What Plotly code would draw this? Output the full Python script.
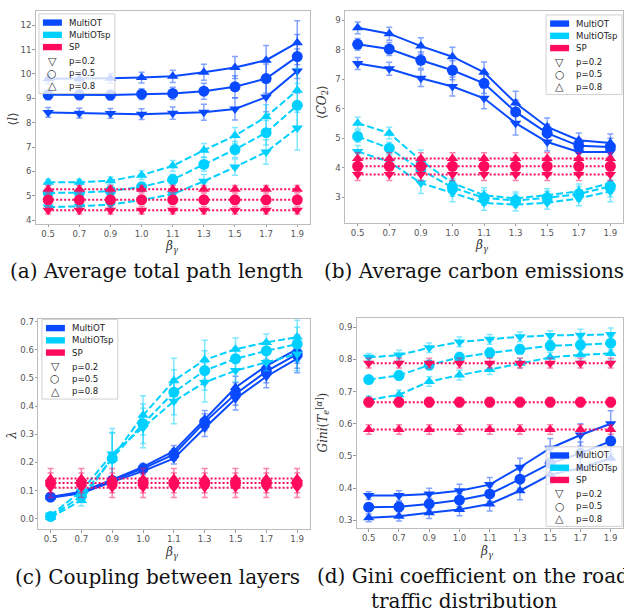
import plotly.graph_objects as go

# ---------------- data ----------------
beta_labels = ["0.5", "0.7", "0.9", "1.0", "1.1", "1.3", "1.5", "1.7", "1.9"]
p_labels = ["p=0.2", "p=0.5", "p=0.8"]
method_names = ["MultiOT", "MultiOTsp", "SP"]

# (a) average total path length
a_mot_p02 = [8.42, 8.39, 8.38, 8.35, 8.39, 8.43, 8.56, 9.05, 10.12]
a_mot_p05 = [9.14, 9.14, 9.13, 9.17, 9.20, 9.29, 9.47, 9.81, 10.71]
a_mot_p08 = [9.80, 9.80, 9.82, 9.85, 9.90, 10.07, 10.26, 10.56, 11.28]
a_mot_err = [0.20, 0.20, 0.20, 0.22, 0.25, 0.33, 0.45, 0.60, 0.90]
a_msp_p02 = [4.54, 4.57, 4.64, 4.83, 5.07, 5.60, 6.18, 6.80, 7.78]
a_msp_p05 = [5.12, 5.13, 5.20, 5.37, 5.67, 6.29, 6.90, 7.59, 8.71]
a_msp_p08 = [5.56, 5.56, 5.62, 5.85, 6.23, 6.87, 7.47, 8.24, 9.33]
a_msp_err = [0.12, 0.12, 0.15, 0.18, 0.22, 0.28, 0.33, 0.50, 0.90]
a_sp_p02 = [4.41, 4.41, 4.41, 4.41, 4.41, 4.41, 4.41, 4.41, 4.41]
a_sp_p05 = [4.84, 4.84, 4.84, 4.84, 4.84, 4.84, 4.84, 4.84, 4.84]
a_sp_p08 = [5.27, 5.27, 5.27, 5.27, 5.27, 5.27, 5.27, 5.27, 5.27]
a_sp_err = [0.15, 0.15, 0.15, 0.15, 0.15, 0.15, 0.15, 0.15, 0.15]

# (b) average carbon emissions
b_mot_p02 = [7.53, 7.35, 7.03, 6.75, 6.35, 5.51, 4.87, 4.53, 4.53]
b_mot_p05 = [8.18, 8.02, 7.64, 7.30, 6.86, 5.89, 5.17, 4.74, 4.70]
b_mot_p08 = [8.74, 8.54, 8.12, 7.76, 7.23, 6.19, 5.38, 4.93, 4.84]
b_mot_err = [0.20, 0.22, 0.28, 0.32, 0.35, 0.40, 0.30, 0.25, 0.30]
b_msp_p02 = [4.55, 4.20, 3.48, 3.15, 2.81, 2.75, 2.81, 2.96, 3.20]
b_msp_p05 = [5.06, 4.66, 3.93, 3.33, 2.98, 2.89, 2.98, 3.11, 3.37]
b_msp_p08 = [5.51, 5.17, 4.25, 3.48, 3.07, 2.96, 3.07, 3.20, 3.48]
b_msp_err = [0.20, 0.20, 0.35, 0.30, 0.25, 0.22, 0.22, 0.25, 0.35]
b_sp_p02 = [3.77, 3.77, 3.77, 3.77, 3.77, 3.77, 3.77, 3.77, 3.77]
b_sp_p05 = [4.05, 4.05, 4.05, 4.05, 4.05, 4.05, 4.05, 4.05, 4.05]
b_sp_p08 = [4.31, 4.31, 4.31, 4.31, 4.31, 4.31, 4.31, 4.31, 4.31]
b_sp_err = [0.20, 0.20, 0.20, 0.20, 0.20, 0.20, 0.20, 0.20, 0.20]

# (c) coupling between layers
c_mot_p02 = [0.074, 0.090, 0.131, 0.169, 0.214, 0.322, 0.426, 0.505, 0.568]
c_mot_p05 = [0.077, 0.092, 0.136, 0.178, 0.228, 0.343, 0.443, 0.523, 0.584]
c_mot_p08 = [0.077, 0.096, 0.139, 0.184, 0.240, 0.354, 0.466, 0.543, 0.602]
c_mot_err = [0.008, 0.010, 0.010, 0.012, 0.020, 0.030, 0.040, 0.040, 0.050]
c_msp_p02 = [0.012, 0.098, 0.230, 0.322, 0.417, 0.484, 0.526, 0.555, 0.585]
c_msp_p05 = [0.008, 0.080, 0.214, 0.337, 0.449, 0.526, 0.568, 0.596, 0.620]
c_msp_p08 = [0.004, 0.065, 0.216, 0.367, 0.490, 0.564, 0.602, 0.626, 0.645]
c_msp_err = [0.010, 0.020, 0.090, 0.070, 0.080, 0.070, 0.040, 0.030, 0.060]
c_sp_p02 = [0.110, 0.110, 0.110, 0.110, 0.110, 0.110, 0.110, 0.110, 0.110]
c_sp_p05 = [0.127, 0.127, 0.127, 0.127, 0.127, 0.127, 0.127, 0.127, 0.127]
c_sp_p08 = [0.143, 0.143, 0.143, 0.143, 0.143, 0.143, 0.143, 0.143, 0.143]
c_sp_err = [0.035, 0.035, 0.035, 0.035, 0.035, 0.035, 0.035, 0.035, 0.035]

# (d) Gini coefficient on the road traffic distribution
d_mot_p02 = [0.377, 0.377, 0.382, 0.392, 0.411, 0.465, 0.524, 0.565, 0.600]
d_mot_p05 = [0.341, 0.342, 0.351, 0.363, 0.382, 0.428, 0.477, 0.508, 0.546]
d_mot_p08 = [0.308, 0.313, 0.324, 0.334, 0.351, 0.392, 0.442, 0.462, 0.493]
d_mot_err = [0.012, 0.015, 0.018, 0.020, 0.022, 0.028, 0.030, 0.035, 0.040]
d_msp_p02 = [0.806, 0.813, 0.836, 0.854, 0.862, 0.870, 0.874, 0.875, 0.877]
d_msp_p05 = [0.737, 0.750, 0.782, 0.806, 0.820, 0.831, 0.842, 0.845, 0.850]
d_msp_p08 = [0.674, 0.690, 0.731, 0.751, 0.768, 0.788, 0.806, 0.814, 0.818]
d_msp_err = [0.012, 0.015, 0.015, 0.015, 0.015, 0.015, 0.015, 0.018, 0.020]
d_sp_p02 = [0.788, 0.788, 0.788, 0.788, 0.788, 0.788, 0.788, 0.788, 0.788]
d_sp_p05 = [0.667, 0.667, 0.667, 0.667, 0.667, 0.667, 0.667, 0.667, 0.667]
d_sp_p08 = [0.582, 0.582, 0.582, 0.582, 0.582, 0.582, 0.582, 0.582, 0.582]
d_sp_err = [0.015, 0.015, 0.015, 0.015, 0.015, 0.015, 0.015, 0.015, 0.015]

captions = ["(a) Average total path length", "(b) Average carbon emissions",
            "(c) Coupling between layers", "(d) Gini coefficient on the road"]
caption_d2 = "traffic distribution"
y_titles = ["⟨<i>l</i>⟩", "⟨<i>CO</i><sub>2</sub>⟩", "<i>λ</i>",
            "<i>Gini</i>(<i>T</i><sub><i>e</i></sub><sup>[<i>α</i>]</sup>)"]
x_title = "<i>β</i><sub><i>γ</i></sub>"

# ---------------- style ----------------
W, H = 624, 616
COL = {"MultiOT": "#0A4AFF", "MultiOTsp": "#00D0FF", "SP": "#FF0A5C"}
ERRCOL = {"MultiOT": "rgba(10,74,255,0.5)", "MultiOTsp": "rgba(0,208,255,0.5)",
          "SP": "rgba(255,10,92,0.5)"}
DASH = {"MultiOT": "solid", "MultiOTsp": "7px,3px", "SP": "2px,2px"}
SYM = ["triangle-down", "circle", "triangle-up"]
SIZE = [10, 11, 10]
GLYPH = ["▽", "○", "△"]

def px(x):
    return x / W

def py(y):
    return 1 - y / H

panels = [
    dict(data={"MultiOT": ([a_mot_p02, a_mot_p05, a_mot_p08], a_mot_err),
               "MultiOTsp": ([a_msp_p02, a_msp_p05, a_msp_p08], a_msp_err),
               "SP": ([a_sp_p02, a_sp_p05, a_sp_p08], a_sp_err)},
         box=(35.8, 310.2, 9, 223), yr=[3.85, 12.58], dtick=1, tickfmt="d",
         legend=(39, 12), ytitle_xy=(13, 117), xtitle_xy=(172, 246),
         cap=(157, 270, "center")),
    dict(data={"MultiOT": ([b_mot_p02, b_mot_p05, b_mot_p08], b_mot_err),
               "MultiOTsp": ([b_msp_p02, b_msp_p05, b_msp_p08], b_msp_err),
               "SP": ([b_sp_p02, b_sp_p05, b_sp_p08], b_sp_err)},
         box=(345.6, 624.4, 9, 222), yr=[2.13, 9.31], dtick=1, tickfmt="d",
         legend=(547, 13), ytitle_xy=(323, 100), xtitle_xy=(483, 245),
         cap=(475, 270, "center")),
    dict(data={"MultiOT": ([c_mot_p02, c_mot_p05, c_mot_p08], c_mot_err),
               "MultiOTsp": ([c_msp_p02, c_msp_p05, c_msp_p08], c_msp_err),
               "SP": ([c_sp_p02, c_sp_p05, c_sp_p08], c_sp_err)},
         box=(38.3, 310, 318.3, 530), yr=[-0.038, 0.710], dtick=0.1, tickfmt=".1f",
         legend=(42, 319), ytitle_xy=(12, 435), xtitle_xy=(172, 554),
         cap=(158, 578, "center")),
    dict(data={"MultiOT": ([d_mot_p02, d_mot_p05, d_mot_p08], d_mot_err),
               "MultiOTsp": ([d_msp_p02, d_msp_p05, d_msp_p08], d_msp_err),
               "SP": ([d_sp_p02, d_sp_p05, d_sp_p08], d_sp_err)},
         box=(357.2, 623.8, 317.3, 529), yr=[0.275, 0.929], dtick=0.1, tickfmt=".1f",
         legend=(547, 447), ytitle_xy=(323, 422), xtitle_xy=(488, 553),
         cap=(316, 577, "left")),
]

fig = go.Figure()
shapes = []
annotations = []

def note(x, y, text, size, family="DejaVu Sans", color="#222222",
         xanchor="center", angle=0):
    annotations.append(dict(x=px(x), y=py(y), xref="paper", yref="paper",
                            text=text, showarrow=False, textangle=angle,
                            xanchor=xanchor, yanchor="middle", align="center",
                            font=dict(family=family, size=size, color=color)))

for k, pan in enumerate(panels, start=1):
    xa = "x" if k == 1 else f"x{k}"
    ya = "y" if k == 1 else f"y{k}"
    for m in method_names:
        series, err = pan["data"][m]
        for j, vals in enumerate(series):
            fig.add_trace(go.Scatter(
                x=beta_labels, y=vals, xaxis=xa, yaxis=ya,
                mode="lines+markers", showlegend=False,
                line=dict(color=COL[m], width=2, dash=DASH[m]),
                marker=dict(symbol=SYM[j], size=SIZE[j], color=COL[m],
                            line=dict(width=0)),
                error_y=dict(type="data", array=err, color=ERRCOL[m],
                             thickness=1.5, width=3),
            ))
    x0, x1, y0, y1 = pan["box"]
    axis_common = dict(showgrid=False, zeroline=False, showline=True, mirror=True,
                       linecolor="#bdbdbd", linewidth=1, ticks="outside",
                       ticklen=2.5, tickcolor="#9a9a9a",
                       tickfont=dict(family="DejaVu Sans", size=8.6, color="#555555"))
    fig.update_layout(**{
        ("xaxis" if k == 1 else f"xaxis{k}"): dict(
            domain=[px(x0), min(px(x1), 1.0)], anchor=ya, type="category",
            range=[-0.4, 8.4], ticklabelstandoff=-1, **axis_common),
        ("yaxis" if k == 1 else f"yaxis{k}"): dict(
            domain=[py(y1), py(y0)], anchor=xa, range=pan["yr"],
            dtick=pan["dtick"], tickformat=pan["tickfmt"], ticklabelstandoff=-1,
            **axis_common),
    })

    # axis titles & caption
    tx, ty = pan["ytitle_xy"]
    note(tx, ty, y_titles[k - 1], 12, "DejaVu Serif", "#333333", angle=-90)
    tx, ty = pan["xtitle_xy"]
    note(tx, ty, x_title, 12, "DejaVu Serif", "#333333")
    cx, cy, anc = pan["cap"]
    note(cx, cy, captions[k - 1], 20, "DejaVu Serif", "#111111", xanchor=anc)

    # legend (drawn)
    L, T = pan["legend"]
    shapes.append(dict(type="rect", xref="paper", yref="paper", layer="above",
                       x0=px(L), x1=px(L + 76), y0=py(T), y1=py(T + 80),
                       fillcolor="rgba(255,255,255,0.8)",
                       line=dict(color="#d0d0d0", width=1)))
    for i, m in enumerate(method_names):
        yc = T + 8.7 + 12.3 * i
        shapes.append(dict(type="rect", xref="paper", yref="paper", layer="above",
                           x0=px(L + 4), x1=px(L + 23), y0=py(yc - 3.2), y1=py(yc + 3.2),
                           fillcolor=COL[m], line=dict(width=0)))
        note(L + 28, yc, m, 8.6, xanchor="left")
    for j, lab in enumerate(p_labels):
        yc = T + 47.3 + 12.4 * j
        note(L + 13.5, yc, GLYPH[j], 11, color="#333333")
        note(L + 28, yc, lab, 8.6, xanchor="left")

note(465, 602, caption_d2, 20, "DejaVu Serif", "#111111")

fig.update_layout(width=W, height=H, margin=dict(l=0, r=0, t=0, b=0),
                  paper_bgcolor="white", plot_bgcolor="white",
                  shapes=shapes, annotations=annotations, showlegend=False)

fig.write_html("out.html")
